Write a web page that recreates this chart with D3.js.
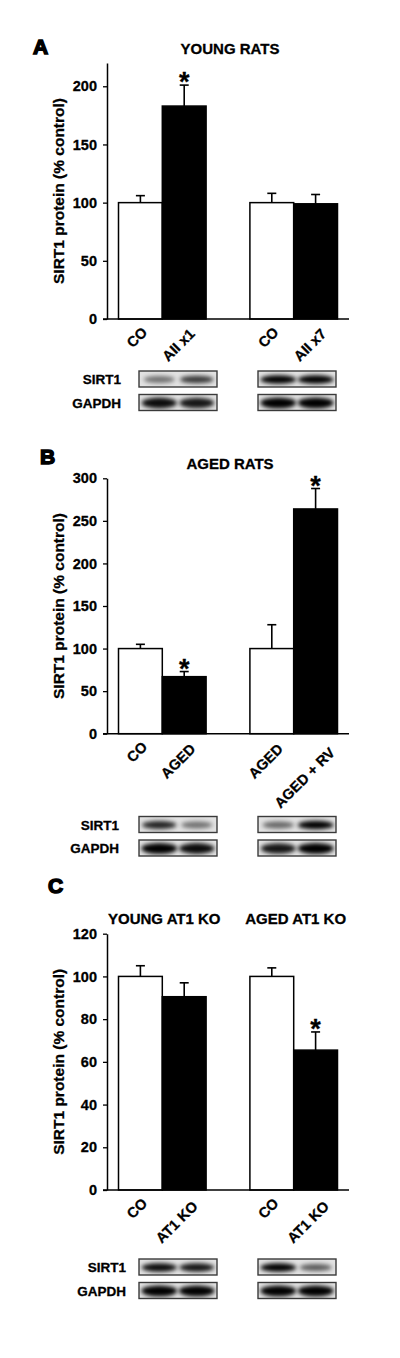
<!DOCTYPE html>
<html>
<head>
<meta charset="utf-8">
<script src="https://cdn.jsdelivr.net/npm/d3@7"></script>
<style>
  body { margin: 0; background: #fff; }
  svg { display: block; font-family: "Liberation Sans", Arial, sans-serif; font-weight: bold; }
  svg text { stroke: #000; stroke-width: 0.3px; }
</style>
</head>
<body>
<script>
// ---- data ----
var barFills = ["white", "black", "white", "black"];

// A: young rats
var labelsA = ["CO", "AII x1", "CO", "AII x7"];
var meansA  = [100, 183, 100, 99];
var semA    = [6, 18, 8, 8];
var sigA    = [false, true, false, false];
var ticksA  = [0, 50, 100, 150, 200];

// B: aged rats
var labelsB = ["CO", "AGED", "AGED", "AGED + RV"];
var meansB  = [100, 67, 100, 264];
var semB    = [5, 6, 28, 24];
var sigB    = [false, true, false, true];
var ticksB  = [0, 50, 100, 150, 200, 250, 300];

// C: AT1 knockout
var labelsC = ["CO", "AT1 KO", "CO", "AT1 KO"];
var meansC  = [100, 90.5, 100, 65.5];
var semC    = [5, 6.5, 4, 8.5];
var sigC    = [false, false, false, true];
var ticksC  = [0, 20, 40, 60, 80, 100, 120];

// western blot band darkness per lane (box1 lane1, lane2, box2 lane1, lane2)
var sirtA  = [0.5, 0.75, 1.0, 1.0];
var gapdhA = [0.95, 0.9, 1.0, 1.0];
var sirtB  = [0.85, 0.5, 0.55, 1.0];
var gapdhB = [1.0, 0.95, 0.9, 1.0];
var sirtC  = [0.95, 0.9, 1.0, 0.6];
var gapdhC = [1.0, 1.0, 1.0, 1.0];

var yLabel = "SIRT1 protein (% control)";

var svg = d3.select("body").append("svg")
    .attr("width", 400).attr("height", 1358);

svg.append("rect").attr("width", 400).attr("height", 1358).attr("fill", "#fff");

var defs = svg.append("defs");
defs.append("filter").attr("id", "blur")
    .attr("x", "-60%").attr("y", "-200%").attr("width", "220%").attr("height", "500%")
  .append("feGaussianBlur").attr("stdDeviation", 2.2);

function drawPanel(p) {
  var g = svg.append("g");
  var slots = ["b0", "b1", "gap", "b2", "b3"];
  var x = d3.scaleBand().domain(slots).range([118.5, 337.5]).paddingInner(0);
  var keys = ["b0", "b1", "b2", "b3"];
  var y = d3.scaleLinear().domain([0, p.max]).range([p.bottom, p.top]);

  // panel letter
  g.append("text").attr("x", p.letterX).attr("y", p.letterY)
      .attr("font-size", 21).style("stroke-width", "1.5px")
      .text(p.letter);

  // titles over groups
  p.titles.forEach(function (t) {
    var x0 = x(keys[t.from]), x1 = x(keys[t.to]) + x.bandwidth();
    g.append("text").attr("x", (x0 + x1) / 2 + 2).attr("y", p.top - 9.5)
        .attr("text-anchor", "middle").attr("font-size", 15).text(t.text);
  });

  // y axis
  var axis = g.append("g").attr("transform", "translate(107,0)")
      .call(d3.axisLeft(y).tickValues(p.ticks).tickSize(4).tickSizeOuter(0).tickPadding(6));
  axis.select(".domain").attr("stroke", "#000").attr("stroke-width", 1.5);
  axis.selectAll(".tick line").attr("stroke", "#000").attr("stroke-width", 1.3);
  axis.selectAll(".tick text").attr("font-size", 14.5).attr("font-family", null)
      .attr("font-weight", "bold").attr("fill", "#000");

  g.append("text")
      .attr("transform", "translate(64," + ((p.top + p.bottom) / 2) + ") rotate(-90)")
      .attr("text-anchor", "middle").attr("font-size", 15.5).text(yLabel);

  // bars
  g.selectAll(".bar").data(p.means).enter().append("rect")
      .attr("x", function (d, i) { return x(keys[i]); })
      .attr("width", x.bandwidth())
      .attr("y", function (d) { return y(d); })
      .attr("height", function (d) { return p.bottom - y(d); })
      .attr("fill", function (d, i) { return barFills[i]; })
      .attr("stroke", "#000").attr("stroke-width", 1.5);

  // error bars (upper only)
  p.means.forEach(function (m, i) {
    var cx = x(keys[i]) + x.bandwidth() / 2;
    var top = y(m + p.sem[i]);
    g.append("line").attr("x1", cx).attr("x2", cx).attr("y1", y(m)).attr("y2", top)
        .attr("stroke", "#000").attr("stroke-width", 1.6);
    g.append("line").attr("x1", cx - 4.5).attr("x2", cx + 4.5).attr("y1", top).attr("y2", top)
        .attr("stroke", "#000").attr("stroke-width", 1.6);
    if (p.sig[i]) {
      g.append("text").attr("x", cx).attr("y", top + 6)
          .attr("text-anchor", "middle").attr("font-size", 27).text("*");
    }
  });

  // x baseline
  g.append("line").attr("x1", 103).attr("x2", 349)
      .attr("y1", p.bottom).attr("y2", p.bottom)
      .attr("stroke", "#000").attr("stroke-width", 1.5);

  // rotated category labels
  p.labels.forEach(function (lab, i) {
    var cx = x(keys[i]) + x.bandwidth() / 2;
    var t = g.append("text").attr("text-anchor", "end").attr("font-size", 14.5).text(lab);
    var L = t.node().getComputedTextLength();
    var x0 = cx + 3 + 0.22 * L, y0 = p.bottom + 12 + 0.1 * L;
    t.attr("transform", "translate(" + x0 + "," + y0 + ") rotate(-45)");
  });

  // western blots
  var boxX = [139, 258], boxW = 78, boxH = 16;
  [[ "SIRT1", p.sirt, p.blotTop, 3.6 ], [ "GAPDH", p.gapdh, p.blotTop + 23.5, 4.6 ]].forEach(function (row, r) {
    var ry = row[2];
    g.append("text").attr("x", p.blotLabelX).attr("y", ry + boxH / 2 + 5)
        .attr("text-anchor", "end").attr("font-size", 13.5).text(row[0]);
    boxX.forEach(function (bx, b) {
      var cid = "clip" + p.letter + r + b;
      defs.append("clipPath").attr("id", cid).append("rect")
          .attr("x", bx).attr("y", ry).attr("width", boxW).attr("height", boxH);
      var bg = g.append("g").attr("clip-path", "url(#" + cid + ")");
      bg.append("rect").attr("x", bx).attr("y", ry).attr("width", boxW).attr("height", boxH)
          .attr("fill", "#e2e2e2");
      [0.26, 0.74].forEach(function (f, l) {
        var v = row[1][b * 2 + l];
        bg.append("ellipse").attr("cx", bx + f * boxW).attr("cy", ry + boxH / 2 + 0.5)
            .attr("rx", 13 + 5 * v).attr("ry", row[3] * (0.7 + 0.5 * v))
            .attr("fill", "#000").attr("opacity", v)
            .attr("filter", "url(#blur)");
      });
      g.append("rect").attr("x", bx).attr("y", ry).attr("width", boxW).attr("height", boxH)
          .attr("fill", "none").attr("stroke", "#3a3a3a").attr("stroke-width", 1.4);
    });
  });
}

drawPanel({ letter: "A", letterX: 33, letterY: 54, top: 63, bottom: 319, max: 220,
  ticks: ticksA, labels: labelsA, means: meansA, sem: semA, sig: sigA,
  titles: [{ text: "YOUNG RATS", from: 0, to: 3 }],
  sirt: sirtA, gapdh: gapdhA, blotTop: 371, blotLabelX: 121 });

drawPanel({ letter: "B", letterX: 40, letterY: 464, top: 478.3, bottom: 733.7, max: 300,
  ticks: ticksB, labels: labelsB, means: meansB, sem: semB, sig: sigB,
  titles: [{ text: "AGED RATS", from: 0, to: 3 }],
  sirt: sirtB, gapdh: gapdhB, blotTop: 816.5, blotLabelX: 119 });

drawPanel({ letter: "C", letterX: 48, letterY: 893, top: 933.7, bottom: 1190, max: 120,
  ticks: ticksC, labels: labelsC, means: meansC, sem: semC, sig: sigC,
  titles: [{ text: "YOUNG AT1 KO", from: 0, to: 1 }, { text: "AGED AT1 KO", from: 2, to: 3 }],
  sirt: sirtC, gapdh: gapdhC, blotTop: 1259, blotLabelX: 126 });
</script>
</body>
</html>
